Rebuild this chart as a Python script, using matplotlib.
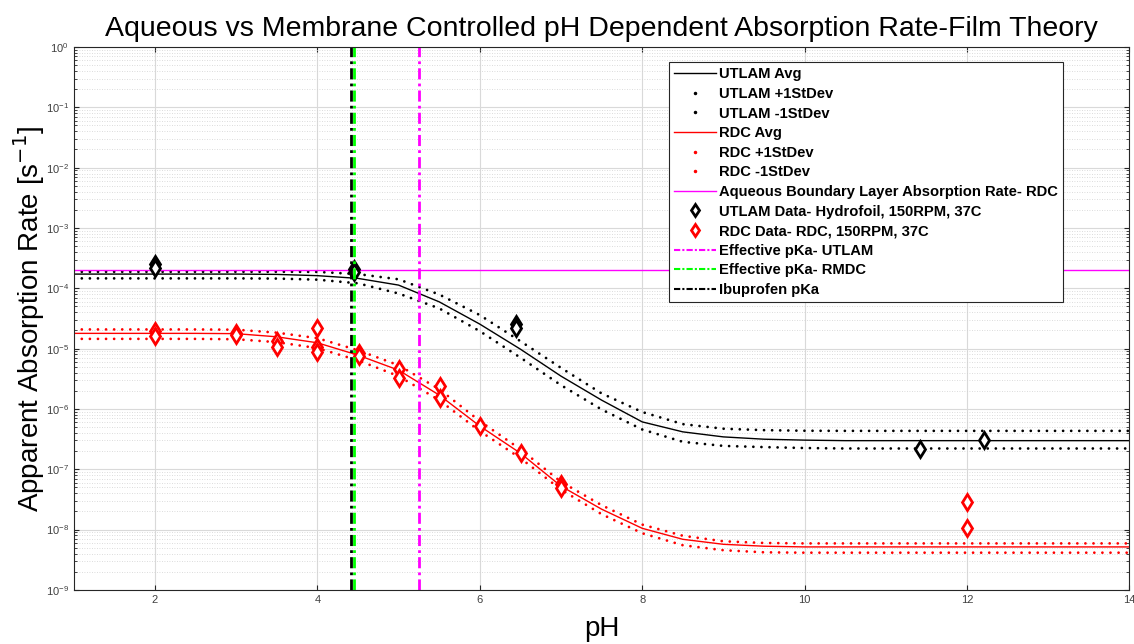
import numpy as np
import matplotlib
matplotlib.use("Agg")
import matplotlib.pyplot as plt
from matplotlib.lines import Line2D

plt.rcParams["font.family"] = ["Liberation Sans", "DejaVu Sans"]

# model curves (pH grid 0.5)
ph_curve = [1.0, 1.5, 2.0, 2.5, 3.0, 3.5, 4.0, 4.5, 5.0, 5.5, 6.0, 6.5, 7.0, 7.5,
            8.0, 8.5, 9.0, 9.5, 10.0, 10.5, 11.0, 11.5, 12.0, 12.5, 13.0, 13.5, 14.0]

utlam_avg = [1.72e-4, 1.72e-4, 1.72e-4, 1.72e-4, 1.72e-4, 1.70e-4, 1.62e-4, 1.46e-4,
             1.13e-4, 5.97e-5, 2.55e-5, 9.8e-6, 3.5e-6, 1.4e-6, 6.1e-7, 4.17e-7,
             3.44e-7, 3.15e-7, 3.04e-7, 2.98e-7, 2.98e-7, 2.98e-7, 2.98e-7, 2.98e-7,
             2.98e-7, 2.98e-7, 2.98e-7]
utlam_hi = [1.88e-4, 1.88e-4, 1.88e-4, 1.88e-4, 1.88e-4, 1.88e-4, 1.87e-4, 1.72e-4,
            1.41e-4, 7.9e-5, 3.6e-5, 1.33e-5, 4.8e-6, 1.81e-6, 8.9e-7, 5.6e-7,
            4.7e-7, 4.45e-7, 4.35e-7, 4.33e-7, 4.33e-7, 4.33e-7, 4.33e-7, 4.33e-7,
            4.33e-7, 4.33e-7, 4.33e-7]
utlam_lo = [1.46e-4, 1.46e-4, 1.46e-4, 1.46e-4, 1.46e-4, 1.45e-4, 1.39e-4, 1.21e-4,
            8.2e-5, 4.65e-5, 1.95e-5, 7.1e-6, 2.48e-6, 9.8e-7, 4.57e-7, 2.85e-7,
            2.44e-7, 2.33e-7, 2.25e-7, 2.21e-7, 2.21e-7, 2.21e-7, 2.21e-7, 2.21e-7,
            2.21e-7, 2.21e-7, 2.21e-7]

rdc_avg = [1.79e-5, 1.79e-5, 1.79e-5, 1.79e-5, 1.77e-5, 1.57e-5, 1.25e-5, 7.8e-6,
           4.4e-6, 1.7e-6, 5.2e-7, 1.85e-7, 5.25e-8, 2.18e-8, 1.05e-8, 6.9e-9,
           5.7e-9, 5.3e-9, 5.16e-9, 5.16e-9, 5.16e-9, 5.16e-9, 5.16e-9, 5.16e-9,
           5.16e-9, 5.16e-9, 5.16e-9]
rdc_hi = [2.08e-5, 2.08e-5, 2.08e-5, 2.08e-5, 2.06e-5, 1.84e-5, 1.49e-5, 9.4e-6,
          5.3e-6, 2.13e-6, 6.3e-7, 2.15e-7, 6.2e-8, 2.54e-8, 1.21e-8, 7.9e-9,
          6.4e-9, 6.0e-9, 5.9e-9, 5.9e-9, 5.9e-9, 5.9e-9, 5.9e-9, 5.9e-9,
          5.9e-9, 5.9e-9, 5.9e-9]
rdc_lo = [1.45e-5, 1.45e-5, 1.45e-5, 1.45e-5, 1.43e-5, 1.28e-5, 1.02e-5, 6.4e-6,
          3.5e-6, 1.4e-6, 4.3e-7, 1.53e-7, 4.6e-8, 1.8e-8, 8.7e-9, 5.5e-9,
          4.55e-9, 4.2e-9, 4.14e-9, 4.14e-9, 4.14e-9, 4.14e-9, 4.14e-9, 4.14e-9,
          4.14e-9, 4.14e-9, 4.14e-9]

aq_rate = 2.0e-4

# measured data
utlam_ph = [2.0, 2.0, 4.45, 4.45, 6.45, 6.45, 11.42, 12.21]
utlam_k = [2.5e-4, 2.2e-4, 2.05e-4, 1.85e-4, 2.6e-5, 2.2e-5, 2.2e-7, 3.0e-7]

rdc_ph = [2.0, 2.0, 3.0, 3.0, 3.5, 3.5, 4.0, 4.0, 4.0, 4.51, 4.51, 5.01, 5.01,
          5.51, 5.51, 6.0, 6.51, 7.0, 7.0, 12.0, 12.0]
rdc_k = [1.99e-5, 1.59e-5, 1.85e-5, 1.7e-5, 1.35e-5, 1.07e-5, 2.2e-5, 1.07e-5, 8.8e-6,
         8.3e-6, 7.5e-6, 4.6e-6, 3.2e-6, 2.4e-6, 1.5e-6, 5.2e-7, 1.87e-7,
         5.7e-8, 4.9e-8, 2.9e-8, 1.06e-8]

pka_utlam = 5.25
pka_rmdc = 4.45
pka_ibu = 4.41

dot_style = (0, (0.01, 2.9))
dashdot = (0, (4, 1.5, 1, 1.5))

fig = plt.figure(figsize=(11.34, 6.44), dpi=100)
ax = fig.add_axes([0.065, 0.084, 0.931, 0.843])

ax.plot(ph_curve, utlam_avg, color="black", lw=1)
ax.plot(ph_curve, utlam_hi, color="black", lw=2, ls=dot_style, dash_capstyle="round")
ax.plot(ph_curve, utlam_lo, color="black", lw=2, ls=dot_style, dash_capstyle="round")
ax.plot(ph_curve, rdc_avg, color="red", lw=1)
ax.plot(ph_curve, rdc_hi, color="red", lw=2, ls=dot_style, dash_capstyle="round")
ax.plot(ph_curve, rdc_lo, color="red", lw=2, ls=dot_style, dash_capstyle="round")
ax.axhline(aq_rate, color="magenta", lw=1)
ax.plot(utlam_ph, utlam_k, ls="none", marker="d", ms=8, mfc="white", mec="black", mew=2)
ax.plot(rdc_ph, rdc_k, ls="none", marker="d", ms=8, mfc="white", mec="red", mew=2)
ax.axvline(pka_utlam, color="magenta", lw=2, ls=dashdot)
ax.axvline(pka_rmdc, color="lime", lw=2, ls=dashdot)
ax.axvline(pka_ibu, color="black", lw=2, ls=dashdot)

ax.set_yscale("log")
ax.set_xlim(1, 14)
ax.set_ylim(1e-9, 1)
ax.set_xticks([2, 4, 6, 8, 10, 12, 14])
ax.set_yticks([10.0 ** e for e in range(-9, 1)])
ax.grid(True, which="major", color="#d9d9d9", lw=0.8)
ax.grid(True, which="minor", axis="y", color="#d0d0d0", lw=0.6, ls=(0, (1, 2)))
ax.tick_params(which="both", direction="in", top=True, right=True,
               labelsize=8, labelcolor="#404040", color="#262626")
for s in ax.spines.values():
    s.set_color("#262626")

ax.set_xlabel("pH", fontsize=20, labelpad=8)
ax.set_ylabel("Apparent Absorption Rate [s$^{-1}$]", fontsize=20, labelpad=-1)
ax.set_title("Aqueous vs Membrane Controlled pH Dependent Absorption Rate-Film Theory",
             fontsize=20.5, pad=8)

handles = [
    Line2D([], [], color="black", lw=1),
    Line2D([], [], color="black", ls="none", marker=".", ms=3),
    Line2D([], [], color="black", ls="none", marker=".", ms=3),
    Line2D([], [], color="red", lw=1),
    Line2D([], [], color="red", ls="none", marker=".", ms=3),
    Line2D([], [], color="red", ls="none", marker=".", ms=3),
    Line2D([], [], color="magenta", lw=1),
    Line2D([], [], ls="none", marker="d", ms=6, mfc="white", mec="black", mew=2),
    Line2D([], [], ls="none", marker="d", ms=6, mfc="white", mec="red", mew=2),
    Line2D([], [], color="magenta", lw=1.5, ls=(0, (3, 1, 1, 1))),
    Line2D([], [], color="lime", lw=1.5, ls=(0, (3, 1, 1, 1))),
    Line2D([], [], color="black", lw=1.5, ls=(0, (3, 1, 1, 1))),
]
labels = ["UTLAM Avg", "UTLAM +1StDev", "UTLAM -1StDev", "RDC Avg", "RDC +1StDev",
          "RDC -1StDev", "Aqueous Boundary Layer Absorption Rate- RDC",
          "UTLAM Data- Hydrofoil, 150RPM, 37C", "RDC Data- RDC, 150RPM, 37C",
          "Effective pKa- UTLAM", "Effective pKa- RMDC", "Ibuprofen pKa"]
leg = ax.legend(handles, labels, loc="upper left", bbox_to_anchor=(0.5635, 0.972),
                prop={"weight": "bold", "size": 10.6}, frameon=True,
                fancybox=False, edgecolor="#262626", framealpha=1,
                handlelength=2.9, handletextpad=0.15, labelspacing=0.38,
                borderpad=0.35, borderaxespad=0)
leg.get_frame().set_linewidth(0.8)

fig.savefig("out.png", dpi=100)
